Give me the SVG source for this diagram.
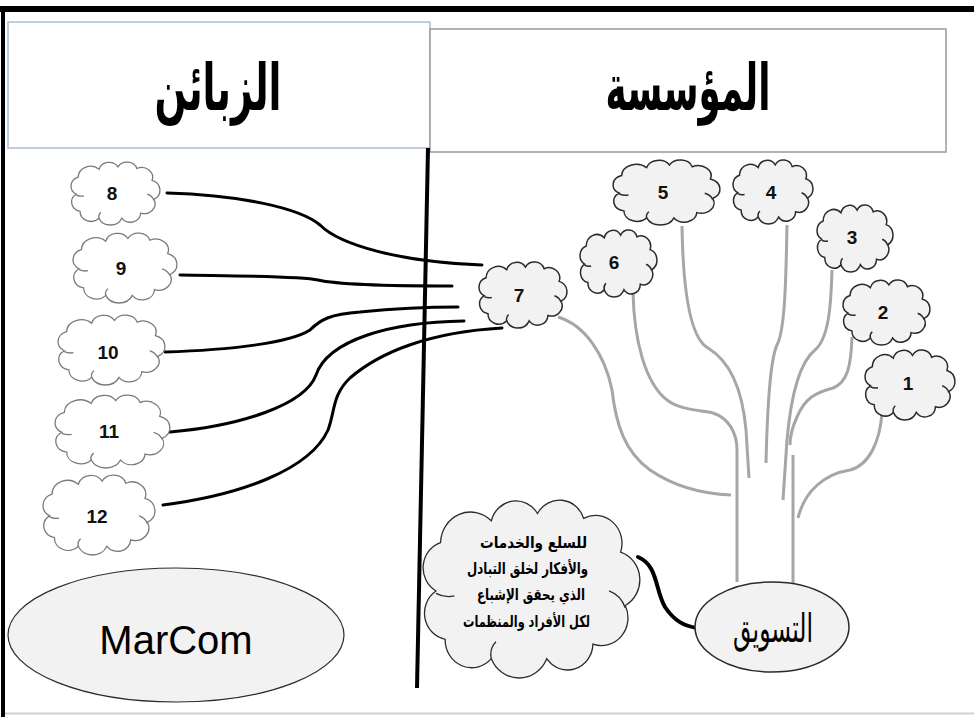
<svg xmlns="http://www.w3.org/2000/svg" xmlns:xlink="http://www.w3.org/1999/xlink" width="974" height="717" viewBox="0 0 974 717">
<style>
.frame{fill:#000}
.hdrL{fill:#fff;stroke:#a9bdd6;stroke-width:1.5}
.hdrR{fill:#fff;stroke:#9a9a9a;stroke-width:1.5}
.ar{font-family:"DejaVu Sans","Noto Sans",sans-serif;fill:#000;text-anchor:middle}
.hdr{font-size:50px;font-weight:bold}
.def{font-weight:bold;font-size:14px;text-anchor:start;direction:ltr}
.num{font-family:"Liberation Sans",Arial,sans-serif;font-weight:bold;font-size:19px;fill:#111;text-anchor:middle}
.cw{fill:#fff;stroke:#7a7a7a;stroke-width:1.3}
.cg{fill:#f2f2f2;stroke:#2b2b2b;stroke-width:1.5}
.blk{fill:none;stroke:#000;stroke-width:3;stroke-linecap:round}
.tree{fill:none;stroke:#a6a6a6;stroke-width:3}
.ell{fill:#f2f2f2;stroke:#2b2b2b;stroke-width:1.5}
</style>
<defs>
<symbol id="cloud" viewBox="6.4 0.4 94 73.6" preserveAspectRatio="none" overflow="visible">
<path vector-effect="non-scaling-stroke" d="M12,38 A11,11 0 0 1 14,18 A13,13 0 0 1 36,9 A11,11 0 0 1 56,6 A11,11 0 0 1 76,8 A11.5,11.5 0 0 1 92,22 A12,12 0 0 1 94,44 A11.5,11.5 0 0 1 80,60 A11,11 0 0 1 60,66 A13,13 0 0 1 36,66 A11.5,11.5 0 0 1 16,58 A11,11 0 0 1 12,38 Z"/>
<path vector-effect="non-scaling-stroke" fill="none" d="M87,38 A11.5,11.5 0 0 1 94,45 M12,39 Q16,41 20,40 M36,66 Q35,62 38,59"/>
</symbol>
</defs>

<!-- frame -->
<rect class="frame" x="0" y="6" width="974" height="6"/>
<rect class="frame" x="1" y="6" width="4" height="711"/>
<line x1="5" y1="713.5" x2="974" y2="713.5" stroke="#cfcfcf" stroke-width="2"/>

<g id="header-customers">
<rect class="hdrL" x="8" y="22" width="422" height="126"/>
<text class="ar hdr" transform="translate(218,110) scale(1,1.3)" x="0" y="0" textLength="127" lengthAdjust="spacingAndGlyphs">الزبائن</text>
</g>
<g id="header-organization">
<rect class="hdrR" x="430" y="29" width="516" height="123"/>
<text class="ar hdr" transform="translate(688,110) scale(1,1.3)" x="0" y="0" textLength="165" lengthAdjust="spacingAndGlyphs">المؤسسة</text>
</g>

<g id="divider">
<line x1="428" y1="148" x2="417" y2="688" stroke="#000" stroke-width="4"/>
</g>

<g id="connectors">
<path class="tree" d="M558,317 C585,325 605,355 612,390 C616,425 625,452 650,470 C675,487 705,494 731,495"/>
<path class="tree" d="M633,292 C634,340 645,383 667,400 C680,410 700,410 713,413 C728,418 737,432 737,450 L737,582"/>
<path class="tree" d="M682,226 C683,290 690,338 708,348 C728,360 742,385 746,430 L749,478"/>
<path class="tree" d="M787,225 C786,280 785,330 777,345 C770,360 767,420 766,463"/>
<path class="tree" d="M832,270 C831,305 829,338 815,350 C800,362 791,395 787,440 L783,500"/>
<path class="tree" d="M852,337 C851,365 848,382 833,388 C815,393 805,398 797,417 C791,430 790,440 790,445"/>
<path class="tree" d="M882,413 C880,440 870,465 850,470 C825,474 805,490 798,518"/>
<path class="tree" d="M793,455 L793,583"/>
<path class="blk" d="M167,193 C240,195 300,208 320,225 C340,245 400,262 482,265"/>
<path class="blk" d="M180,275 C240,276 300,276 318,280 C340,285 400,286 452,286"/>
<path class="blk" d="M165,352 C230,350 290,343 310,330 C320,320 330,314 360,312 C390,309 420,307 458,307"/>
<path class="blk" d="M170,432 C240,426 305,405 316,375 C328,340 390,322 464,321"/>
<path class="blk" d="M163,505 C240,495 310,470 328,430 C335,412 332,395 350,378 C380,352 430,332 502,328"/>
<path class="blk" style="stroke-width:4" d="M638,557 C658,565 655,590 665,607 C675,622 685,626 697,628"/>
</g>

<g id="node-8"><use xlink:href="#cloud" class="cw" x="71" y="162" width="89" height="63"/><text class="num" x="112" y="200">8</text></g>
<g id="node-9"><use xlink:href="#cloud" class="cw" x="73" y="233" width="104" height="70"/><text class="num" x="121" y="275">9</text></g>
<g id="node-10"><use xlink:href="#cloud" class="cw" x="58" y="315" width="107" height="70"/><text class="num" x="108" y="359">10</text></g>
<g id="node-11"><use xlink:href="#cloud" class="cw" x="55" y="395" width="115" height="73"/><text class="num" x="109" y="438">11</text></g>
<g id="node-12"><use xlink:href="#cloud" class="cw" x="43" y="475" width="112" height="80"/><text class="num" x="97" y="523">12</text></g>

<g id="node-7"><use xlink:href="#cloud" class="cg" x="479" y="262" width="88" height="66"/><text class="num" x="519" y="302">7</text></g>
<g id="node-6"><use xlink:href="#cloud" class="cg" x="580" y="230" width="77" height="67"/><text class="num" x="614" y="269">6</text></g>
<g id="node-5"><use xlink:href="#cloud" class="cg" x="613" y="160" width="107" height="65"/><text class="num" x="663" y="199">5</text></g>
<g id="node-4"><use xlink:href="#cloud" class="cg" x="733" y="160" width="80" height="64"/><text class="num" x="771" y="199">4</text></g>
<g id="node-3"><use xlink:href="#cloud" class="cg" x="817" y="205" width="76" height="67"/><text class="num" x="852" y="244">3</text></g>
<g id="node-2"><use xlink:href="#cloud" class="cg" x="843" y="280" width="87" height="65"/><text class="num" x="883" y="319">2</text></g>
<g id="node-1"><use xlink:href="#cloud" class="cg" x="865" y="350" width="90" height="70"/><text class="num" x="908" y="390">1</text></g>

<g id="node-definition">
<use xlink:href="#cloud" class="cg" style="stroke-width:1.3" x="423" y="500" width="217" height="178"/>
<text class="ar def" transform="translate(480,548) scale(1,1.15)" x="0" y="0" textLength="107" lengthAdjust="spacingAndGlyphs">للسلع والخدمات</text>
<text class="ar def" transform="translate(467,574) scale(1,1.15)" x="0" y="0" textLength="121" lengthAdjust="spacingAndGlyphs">والأفكار لخلق التبادل</text>
<text class="ar def" transform="translate(477,600) scale(1,1.15)" x="0" y="0" textLength="108" lengthAdjust="spacingAndGlyphs">الذي يحقق الإشباع</text>
<text class="ar def" transform="translate(463,627) scale(1,1.15)" x="0" y="0" textLength="127" lengthAdjust="spacingAndGlyphs">لكل الأفراد والمنظمات</text>
</g>

<g id="node-marketing">
<ellipse class="ell" cx="772" cy="627" rx="77" ry="45"/>
<text class="ar" style="font-size:30px" transform="translate(773,642) scale(1,1.3)" x="0" y="0" textLength="80" lengthAdjust="spacingAndGlyphs">التسويق</text>
</g>

<g id="node-marcom">
<ellipse class="ell" style="stroke-width:1.2" cx="176" cy="635" rx="168" ry="67"/>
<text x="176" y="654" style="font-family:'Liberation Sans',Arial,sans-serif;font-size:40px;fill:#000;text-anchor:middle">MarCom</text>
</g>
</svg>
